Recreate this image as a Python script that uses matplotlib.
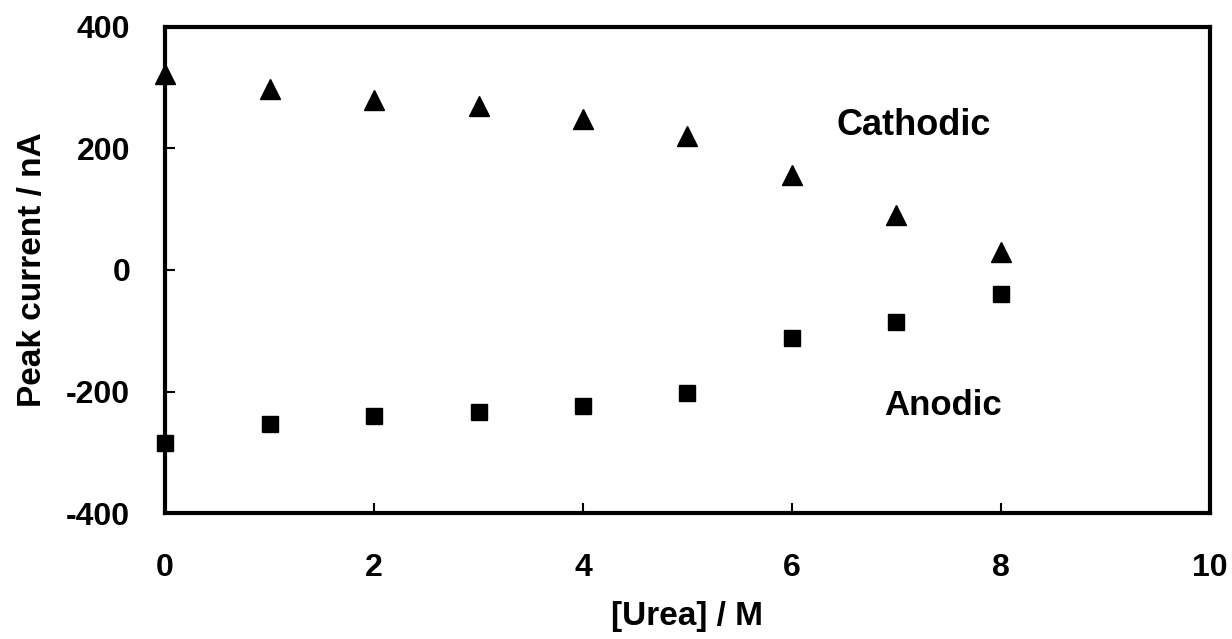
import numpy as np
import matplotlib.pyplot as plt

plt.rcParams['font.family'] = ['Liberation Sans', 'DejaVu Sans']
plt.rcParams['font.weight'] = 'bold'
plt.rcParams['axes.unicode_minus'] = False

urea = [0, 1, 2, 3, 4, 5, 6, 7, 8]
cathodic = [322, 298, 279, 270, 248, 220, 157, 91, 30]
anodic = [-284, -253, -241, -233, -223, -202, -112, -86, -40]

fig = plt.figure(figsize=(12.32, 6.39), dpi=100)
ax = fig.add_axes([0.134, 0.197, 0.848, 0.761])

ax.plot(urea, cathodic, '^', color='black', ms=14, clip_on=False, zorder=5)
ax.plot(urea, anodic, 's', color='black', ms=11.5, clip_on=False, zorder=5)

ax.text(6.43, 238, 'Cathodic', fontsize=26, fontweight='bold', va='center')
ax.text(6.88, -223, 'Anodic', fontsize=25, fontweight='bold', va='center')

ax.set_xlim(0, 10)
ax.set_ylim(-400, 400)
ax.set_xticks([0, 2, 4, 6, 8, 10])
ax.set_yticks([-400, -200, 0, 200, 400])
ax.tick_params(direction='in', length=7, width=1.5, labelsize=23,
               top=False, right=False)
ax.tick_params(axis='y', pad=25)
ax.tick_params(axis='x', pad=29)
for s in ax.spines.values():
    s.set_linewidth(3)

ax.set_xlabel('[Urea] / M', fontsize=24, fontweight='bold', labelpad=13)
ax.set_ylabel('Peak current / nA', fontsize=24, fontweight='bold', labelpad=13)

fig.savefig('out.png', dpi=100)
